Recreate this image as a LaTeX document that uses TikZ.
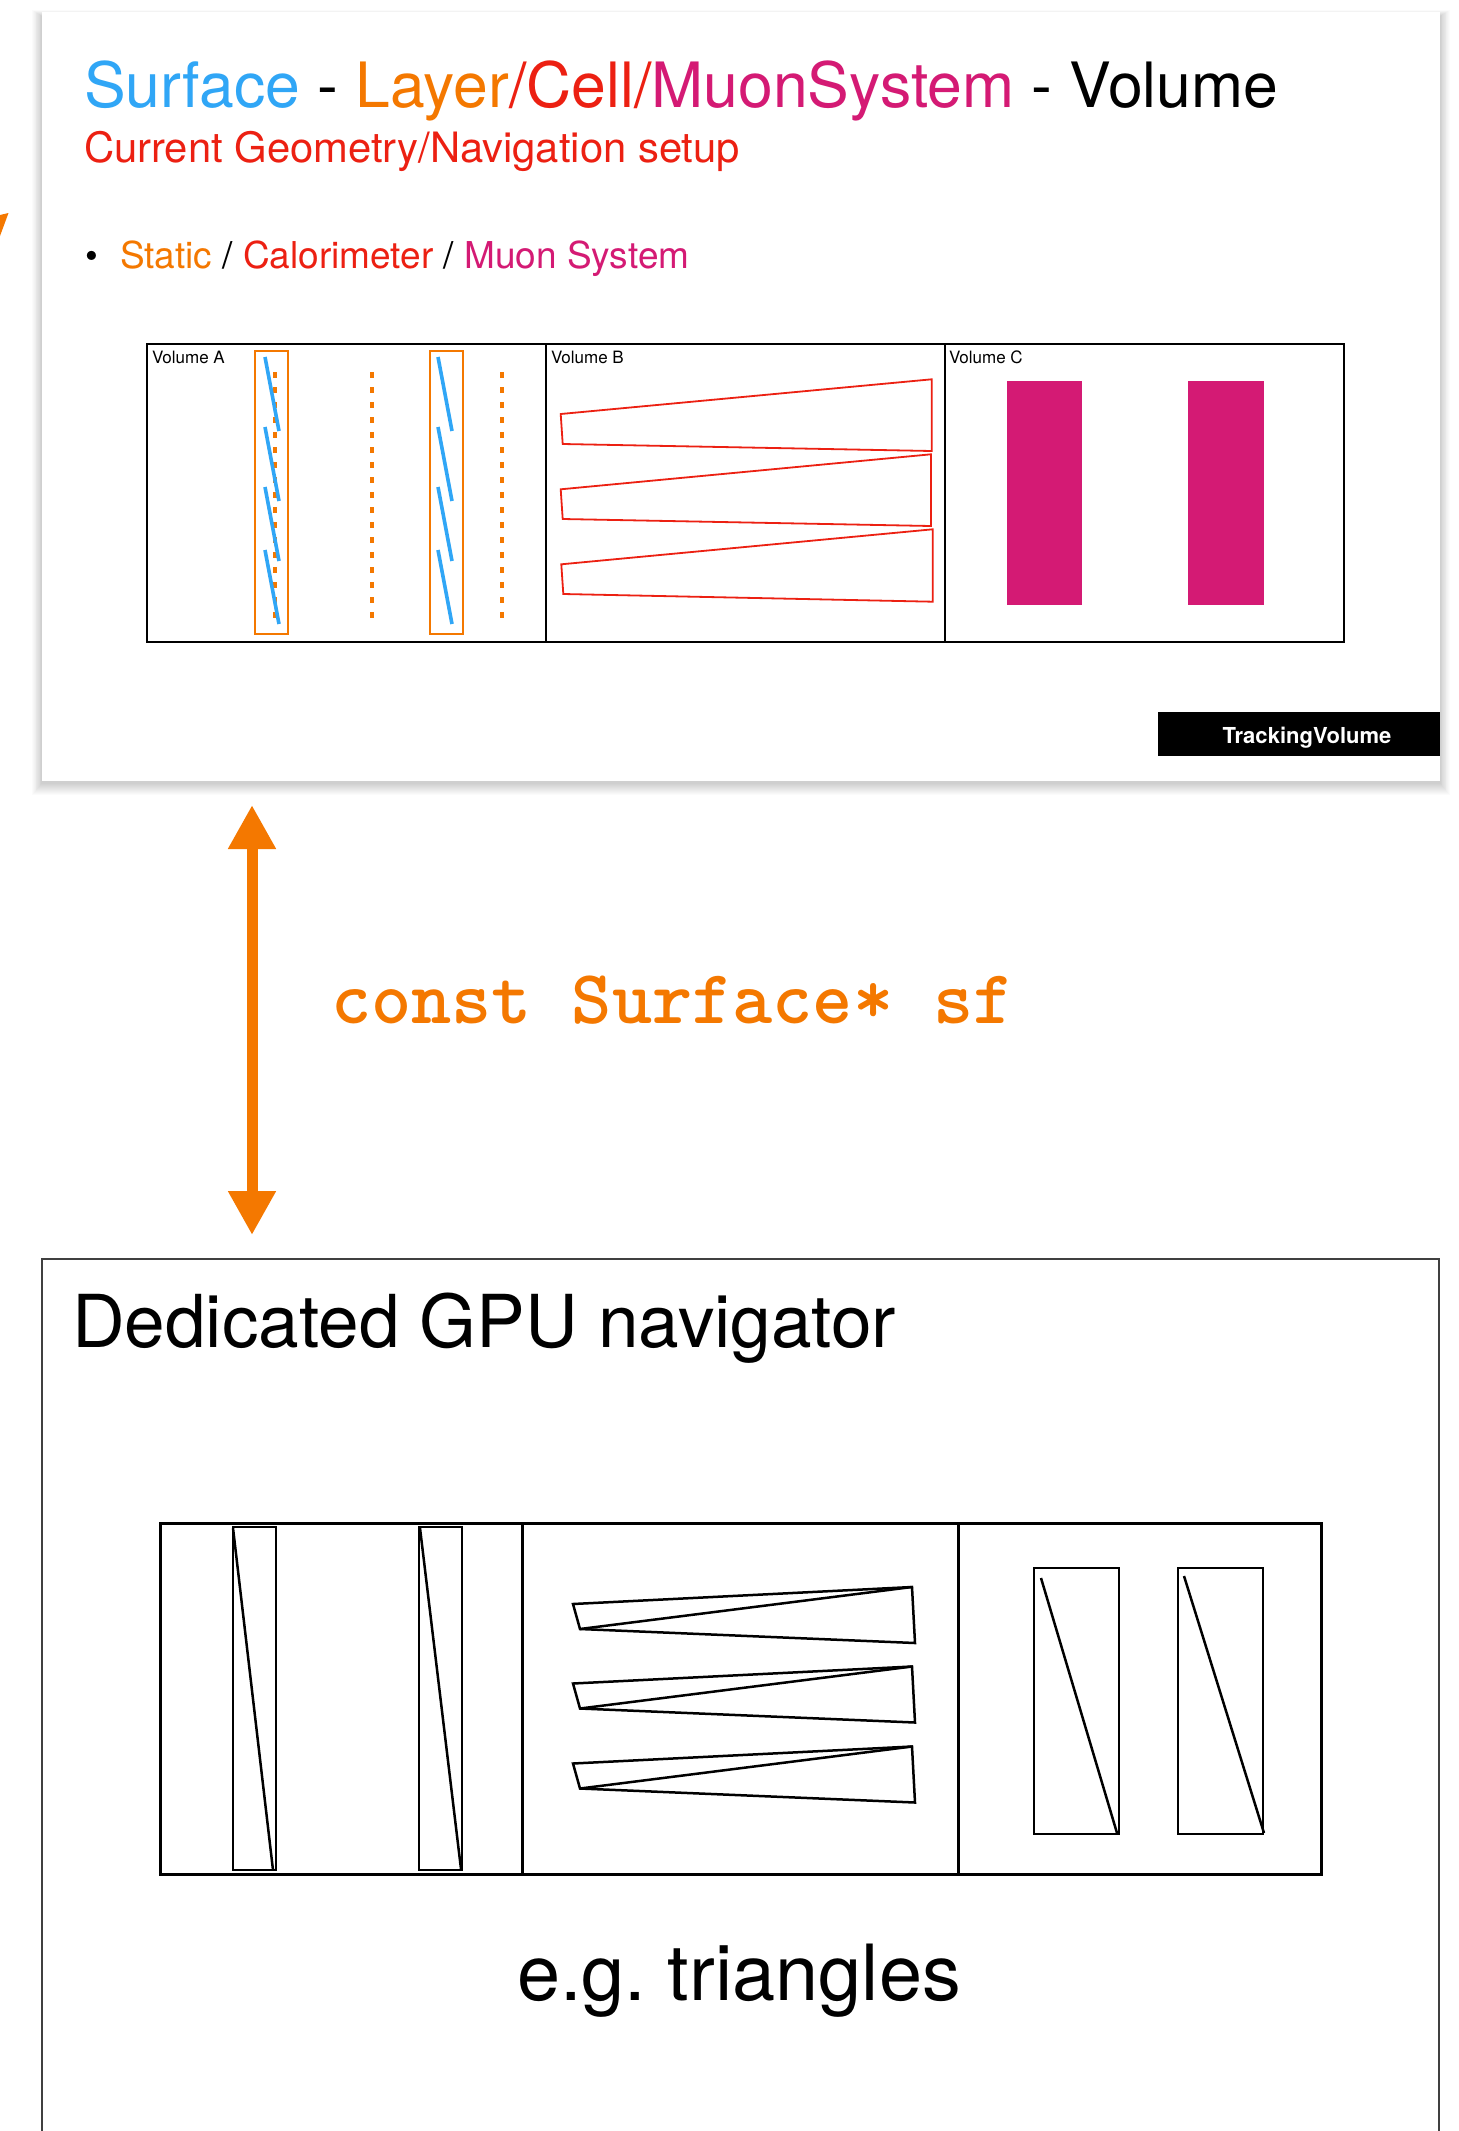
\documentclass[tikz,border=0pt]{standalone}
\usepackage{fontspec}
\setmainfont{TeX Gyre Heros}
\usetikzlibrary{arrows.meta}
\definecolor{cblue}{RGB}{48,166,246}
\definecolor{corange}{RGB}{244,120,0}
\definecolor{cred}{RGB}{236,32,18}
\definecolor{cmag}{RGB}{212,26,116}
\begin{document}
\begin{tikzpicture}[x=1pt,y=-1pt,
  txt/.style={inner sep=0pt, outer sep=0pt},
  volbox/.style={draw=black, line width=2pt},
  orbox/.style={draw=corange, line width=2pt},
  bluel/.style={draw=cblue, line width=3.6pt},
  odot/.style={draw=corange, line width=4pt, dash pattern=on 6pt off 9pt},
  redt/.style={draw=cred, line width=1.8pt, line join=miter},
  gvol/.style={draw=black, line width=3pt},
  ginner/.style={draw=black, line width=2.5pt, line join=miter},
  dblarrow/.style={draw=corange, line width=11pt,
     {Triangle[length=44pt,width=45pt]}-{Triangle[length=44pt,width=45pt]}}
]
\useasboundingbox (0,0) rectangle (1459,2131);
\fill[white] (0,0) rectangle (1459,2131);

% cut-off orange arrow tip at left edge
\fill[corange] (0,215) -- (8.5,213) -- (0,236) -- cycle;

% ---------- top panel with soft shadow ----------
\foreach \k in {1,...,12}
  \fill[black, opacity=0.016] (42-\k*0.8,12-\k*0.5+4) rectangle (1440+\k*0.8,781+\k+2);
\fill[white] (42,12) rectangle (1440,781);

\node[txt, anchor=base west, font=\fontsize{62.5}{70}\selectfont] (title) at (84,107)
  {\textcolor{cblue}{Surface} - \textcolor{corange}{Layer}\textcolor{cred}{/Cell/}\textcolor{cmag}{MuonSystem} - Volume};
\node[txt, anchor=base west, text=cred, font=\fontsize{41.8}{46}\selectfont] (subtitle) at (84,162)
  {Current Geometry/Navigation setup};
\node[txt, anchor=base west, font=\fontsize{36.5}{40}\selectfont] (bullet) at (85,268) {\textbullet};
\node[txt, anchor=base west, font=\fontsize{37}{40}\selectfont] (bullettext) at (120,268)
  {\textcolor{corange}{Static} / \textcolor{cred}{Calorimeter} / \textcolor{cmag}{Muon System}};

% volumes A, B, C
\draw[volbox] (146.5,344) rectangle (1344,642);
\draw[volbox] (545.5,344) -- (545.5,642);
\draw[volbox] (945,344) -- (945,642);
\node[txt, anchor=base west, font=\fontsize{17}{20}\selectfont] (volA) at (152,363) {Volume A};
\node[txt, anchor=base west, font=\fontsize{17}{20}\selectfont] (volB) at (551,363) {Volume B};
\node[txt, anchor=base west, font=\fontsize{17}{20}\selectfont] (volC) at (949,363) {Volume C};

% Volume A content
\draw[odot] (275,372) -- (275,620);
\draw[odot] (372,372) -- (372,620);
\draw[odot] (502,372) -- (502,620);
\draw[orbox] (255,351) rectangle (288,634);
\draw[orbox] (430,351) rectangle (463,634);
\foreach \y in {357,427,487,550} {
  \draw[bluel] (265,\y) -- (279,\y+74);
  \draw[bluel] (438,\y) -- (452,\y+74);
}

% Volume B content
\draw[redt] (560.7,414) -- (931.7,379.3) -- (931.7,451) -- (562.7,444) -- cycle;
\draw[redt] (560.7,489.3) -- (931,454.3) -- (931,526) -- (562.7,519) -- cycle;
\draw[redt] (561.3,564.3) -- (932.7,529.3) -- (932.7,601.7) -- (563.3,594) -- cycle;

% Volume C content
\fill[cmag] (1007,381) rectangle (1082,605);
\fill[cmag] (1188,381) rectangle (1264,605);

% TrackingVolume tag
\node[txt, fill=black, anchor=north west, minimum width=282pt, minimum height=44pt] (tvbox) at (1158,712) {};
\node[txt, anchor=base, text=white, font=\bfseries\fontsize{22}{24}\selectfont] (tv) at (1307,743) {TrackingVolume};

% ---------- connector ----------
\coordinate (aTop) at (252,805);
\coordinate (aBot) at (252,1235);
\draw[dblarrow] (aTop) -- (aBot);
\node[txt, anchor=base west, text=corange, font=\ttfamily\bfseries\fontsize{76.5}{80}\selectfont] (code) at (331,1023)
  {const Surface* sf};

% ---------- bottom panel ----------
\draw[draw=black!75, line width=1.5pt] (42,2131) -- (42,1259) -- (1439,1259) -- (1439,2131);
\node[txt, anchor=base west, font=\fontsize{73}{80}\selectfont] (gpu) at (72,1347) {Dedicated GPU navigator};

\draw[gvol] (160,1523) rectangle (1321,1874);
\draw[gvol] (522.5,1523) -- (522.5,1874);
\draw[gvol] (958,1523) -- (958,1874);

% A: strips split into triangles
\draw[ginner] (233,1527) rectangle (276,1870);
\draw[ginner] (233,1528) -- (273,1870);
\draw[ginner] (419,1527) rectangle (462,1870);
\draw[ginner] (420,1528) -- (461,1869);

% B: trapezoids split into triangles
\foreach \d in {0,79.5,159.5} {
  \draw[ginner] (573,1604+\d) -- (912,1587+\d) -- (915,1643+\d) -- (580,1629+\d) -- cycle;
  \draw[ginner] (580,1629+\d) -- (912,1587+\d);
}

% C: rectangles split into triangles
\draw[ginner] (1034,1568) rectangle (1119,1834);
\draw[ginner] (1041,1578) -- (1117,1833);
\draw[ginner] (1178,1568) rectangle (1263,1834);
\draw[ginner] (1184,1576) -- (1264,1833);

\node[txt, anchor=base, font=\fontsize{77.5}{82}\selectfont] (eg) at (739,2000) {e.g.\ triangles};
\end{tikzpicture}
\end{document}
